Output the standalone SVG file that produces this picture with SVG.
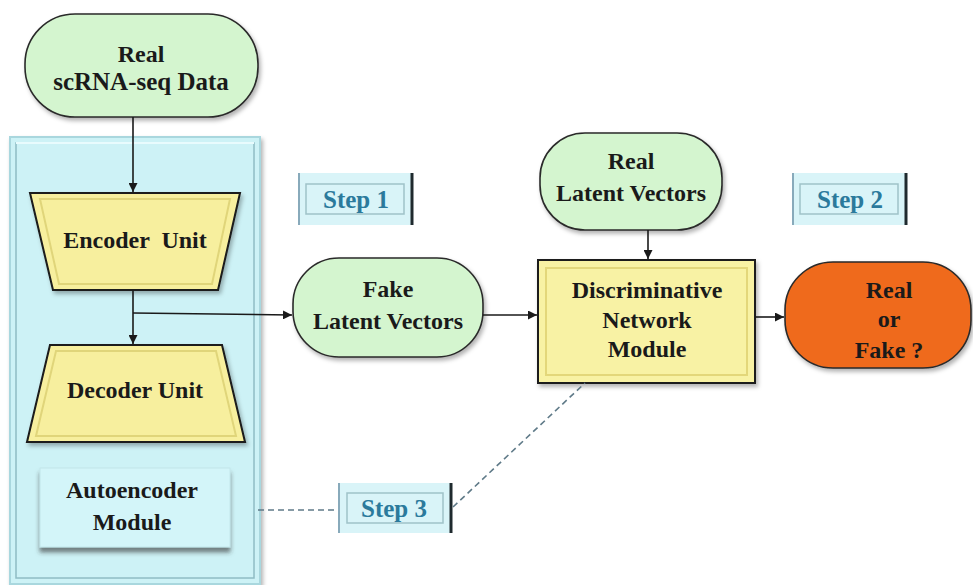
<svg xmlns="http://www.w3.org/2000/svg" width="973" height="585" viewBox="0 0 973 585">
  <defs>
    <style>
      .lbl{font-family:'Liberation Serif','DejaVu Serif',serif;font-weight:bold;font-size:24px;fill:#1a1a1a;text-anchor:middle}
      .step{font-family:'Liberation Serif','DejaVu Serif',serif;font-weight:bold;font-size:25px;fill:#2b7a9c;text-anchor:middle}
      .pill{fill:#d4f5cf;stroke:#2a2a2a;stroke-width:1.6}
      .trap{fill:#f7ef9e;stroke:#1a1a1a;stroke-width:2}
      .bevel{fill:none;stroke:#e0d57a;stroke-width:2}
      .conn{stroke:#1a1a1a;stroke-width:1.6;fill:none}
      .dash{stroke:#5f7a88;stroke-width:1.6;fill:none;stroke-dasharray:6 4}
      .stepbox{fill:#d9f4f8}
    </style>
    <marker id="arr" viewBox="0 0 10 10" refX="10" refY="5" markerWidth="9" markerHeight="9" markerUnits="userSpaceOnUse" orient="auto">
      <path d="M0,0 L10,5 L0,10 z" fill="#1a1a1a"/>
    </marker>
    <filter id="sh" x="-10%" y="-10%" width="130%" height="130%">
      <feDropShadow dx="2" dy="3" stdDeviation="2" flood-color="#000" flood-opacity="0.3"/>
    </filter>
    <filter id="sh2" x="-10%" y="-10%" width="130%" height="140%">
      <feDropShadow dx="0" dy="5" stdDeviation="2" flood-color="#333" flood-opacity="0.6"/>
    </filter>
  </defs>

  <rect width="973" height="585" fill="#ffffff"/>

  <g id="autoencoder-container">
    <rect x="10" y="137" width="250" height="447" fill="#cdf2f6" stroke="#a9d7de" stroke-width="2" filter="url(#sh)"/>
    <rect x="16" y="143" width="238" height="435" fill="none" stroke="#8fbcc4" stroke-width="1.5"/>
    <line x1="16" y1="143" x2="254" y2="143" stroke="#e8fbfd" stroke-width="2"/>
  </g>

  <g id="real-data">
    <rect class="pill" x="25" y="14" width="233" height="103" rx="50" filter="url(#sh)"/>
    <text class="lbl" x="141" y="62">Real</text>
    <text class="lbl" x="141" y="90" style="font-size:25px">scRNA-seq Data</text>
  </g>

  <g id="encoder">
    <polygon class="trap" points="30,193 240,193 218,290 53,290" filter="url(#sh)"/>
    <polygon class="bevel" points="40,199 230,199 212,284 59,284"/>
    <text class="lbl" x="135" y="248" xml:space="preserve">Encoder  Unit</text>
  </g>

  <g id="decoder">
    <polygon class="trap" points="50,345 222,345 245,442 27,442" filter="url(#sh)"/>
    <polygon class="bevel" points="56,351 216,351 236,436 36,436"/>
    <text class="lbl" x="135" y="398">Decoder Unit</text>
  </g>

  <g id="autoencoder-module">
    <rect x="40" y="468" width="190" height="79" fill="#d3f5f9" stroke="#c2e6ea" stroke-width="1" filter="url(#sh2)"/>
    <text class="lbl" x="132" y="498">Autoencoder</text>
    <text class="lbl" x="132" y="530">Module</text>
  </g>

  <g id="step1">
    <rect class="stepbox" x="298" y="173" width="115" height="52"/>
    <rect x="306" y="184" width="98" height="30" fill="none" stroke="#9fc2c8" stroke-width="1.5"/>
    <line x1="299" y1="173" x2="299" y2="225" stroke="#8ab" stroke-width="2"/>
    <line x1="412" y1="173" x2="412" y2="225" stroke="#1f2a2e" stroke-width="3"/>
    <text class="step" x="356" y="208">Step 1</text>
  </g>

  <g id="step2">
    <rect class="stepbox" x="792" y="173" width="115" height="52"/>
    <rect x="800" y="184" width="98" height="30" fill="none" stroke="#9fc2c8" stroke-width="1.5"/>
    <line x1="793" y1="173" x2="793" y2="225" stroke="#8ab" stroke-width="2"/>
    <line x1="906" y1="173" x2="906" y2="225" stroke="#1f2a2e" stroke-width="3"/>
    <text class="step" x="850" y="208">Step 2</text>
  </g>

  <g id="step3">
    <rect class="stepbox" x="338" y="483" width="114" height="50"/>
    <rect x="347" y="493" width="96" height="30" fill="none" stroke="#9fc2c8" stroke-width="1.5"/>
    <line x1="339" y1="483" x2="339" y2="533" stroke="#8ab" stroke-width="2"/>
    <line x1="451" y1="483" x2="451" y2="533" stroke="#1f2a2e" stroke-width="3"/>
    <text class="step" x="394" y="517">Step 3</text>
  </g>

  <g id="fake-latent">
    <rect class="pill" x="293" y="258" width="190" height="99" rx="46" filter="url(#sh)"/>
    <text class="lbl" x="388" y="297">Fake</text>
    <text class="lbl" x="388" y="329">Latent Vectors</text>
  </g>

  <g id="real-latent">
    <rect class="pill" x="540" y="133" width="182" height="97" rx="45" filter="url(#sh)"/>
    <text class="lbl" x="631" y="169">Real</text>
    <text class="lbl" x="631" y="201">Latent Vectors</text>
  </g>

  <g id="discriminator">
    <rect x="538" y="260" width="217" height="123" fill="#f8f2a4" stroke="#1a1a1a" stroke-width="2" filter="url(#sh)"/>
    <rect x="546" y="268" width="201" height="107" fill="none" stroke="#e3d77a" stroke-width="2"/>
    <text class="lbl" x="647" y="298">Discriminative</text>
    <text class="lbl" x="647" y="328">Network</text>
    <text class="lbl" x="647" y="357">Module</text>
  </g>

  <g id="real-or-fake">
    <rect x="785" y="262" width="186" height="106" rx="48" fill="#ef6a1b" stroke="#2a2a2a" stroke-width="1.6" filter="url(#sh)"/>
    <text class="lbl" x="889" y="298">Real</text>
    <text class="lbl" x="889" y="327">or</text>
    <text class="lbl" x="889" y="358">Fake ?</text>
  </g>

  <g id="connectors">
    <line class="conn" x1="133" y1="117" x2="133" y2="192" marker-end="url(#arr)"/>
    <line class="conn" x1="133" y1="290" x2="133" y2="344" marker-end="url(#arr)"/>
    <polyline class="conn" points="133,313 292,315" marker-end="url(#arr)"/>
    <line class="conn" x1="483" y1="315" x2="537" y2="315" marker-end="url(#arr)"/>
    <line class="conn" x1="648" y1="230" x2="648" y2="259" marker-end="url(#arr)"/>
    <line class="conn" x1="755" y1="317" x2="784" y2="317" marker-end="url(#arr)"/>
    <line class="dash" x1="258" y1="510" x2="338" y2="510"/>
    <line class="dash" x1="453" y1="507" x2="585" y2="383"/>
  </g>
</svg>
